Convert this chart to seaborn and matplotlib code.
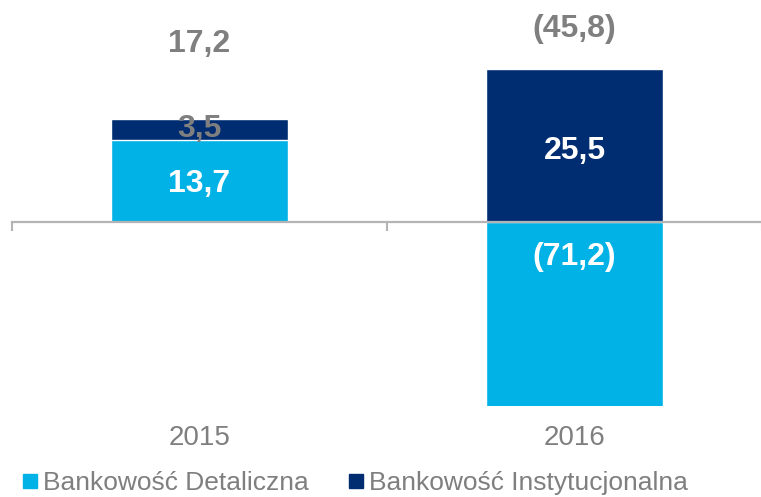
import pandas as pd
import numpy as np
import matplotlib.pyplot as plt
import seaborn as sns
from matplotlib.patches import Patch
from matplotlib.ticker import FixedLocator

sns.set_style('white')
plt.rcParams['font.family'] = ['Liberation Sans', 'DejaVu Sans']

# Dane
years = ['2015', '2016']
retail = [13.7, -71.2]          # Bankowość Detaliczna
institutional = [3.5, 25.5]     # Bankowość Instytucjonalna
totals = [17.2, -45.8]
series_names = ['Bankowość Detaliczna', 'Bankowość Instytucjonalna']

LIGHT = '#00B2E6'
NAVY = '#002D72'
GREY = '#7F7F7F'
VAL_FS = 23


def fmt(v):
    '''Formatuje liczbę po polsku, ujemne w nawiasach'''
    s = f"{abs(v):.1f}".replace('.', ',')
    return f"({s})" if v < 0 else s


df = pd.DataFrame({'Rok': years, 'Detal': retail, 'Inst': institutional})
# instytucjonalna stoi na dodatniej części detalicznej
df['InstTop'] = df['Detal'].clip(lower=0) + df['Inst']

fig = plt.figure(figsize=(7.61, 4.97), dpi=100)
ax = fig.add_axes([12 / 761, 1 - 406 / 497, 750 / 761, 406 / 497])

sns.barplot(data=df, x='Rok', y='InstTop', color=NAVY, width=0.47,
            saturation=1, ax=ax)
sns.barplot(data=df, x='Rok', y='Detal', color=LIGHT, width=0.47,
            saturation=1, ax=ax)

ax.set_xlim(-0.5, 1.5)
ax.set_ylim(-30.67, 37)
ax.set_xlabel('')
ax.set_ylabel('')
ax.set_yticks([])

for s in ['top', 'left', 'right']:
    ax.spines[s].set_visible(False)
ax.spines['bottom'].set_position(('data', 0))
ax.spines['bottom'].set_color('#B4B4B4')
ax.spines['bottom'].set_linewidth(1.6)

ax.set_xticks([0, 1])
ax.set_xticklabels([])
ax.tick_params(axis='x', which='major', length=0)
ax.xaxis.set_minor_locator(FixedLocator([-0.5, 0.5, 1.5]))
ax.tick_params(axis='x', which='minor', bottom=True, length=6.5, width=1.5,
               color='#B4B4B4', direction='out')

# Etykiety lat pod wykresem
for i, y in enumerate(years):
    ax.text(i, -0.078, y, transform=ax.get_xaxis_transform(), ha='center',
            va='center', fontsize=20, color=GREY)

# Etykiety wartości
for i in range(len(years)):
    r, inst = retail[i], institutional[i]
    if r > 0:
        ax.text(i, r / 2 - 0.5, fmt(r), ha='center', va='center',
                fontsize=VAL_FS, fontweight='bold', color='white')
        ax.text(i, r + inst / 2, fmt(inst), ha='center', va='center',
                fontsize=VAL_FS, fontweight='bold', color=GREY)
    else:
        ax.text(i, inst / 2 - 0.9, fmt(inst), ha='center', va='center',
                fontsize=VAL_FS, fontweight='bold', color='white')
        ax.text(i, -5.8, fmt(r), ha='center', va='center',
                fontsize=VAL_FS, fontweight='bold', color='white')

total_y = [29.6, 32.2]
for i, t in enumerate(totals):
    ax.text(i, total_y[i], fmt(t), ha='center', va='center', fontsize=VAL_FS,
            fontweight='bold', color=GREY, clip_on=False)

handles = [Patch(color=LIGHT), Patch(color=NAVY)]
leg = fig.legend(handles, series_names, loc='center left',
                 bbox_to_anchor=(23 / 761, 1 - 483 / 497), ncol=2, frameon=False,
                 borderpad=0, borderaxespad=0,
                 handlelength=0.53, handleheight=0.45, handletextpad=0.22,
                 columnspacing=1.55, prop={'size': 19})
for t in leg.get_texts():
    t.set_color(GREY)

fig.savefig('out.png', dpi=100)
